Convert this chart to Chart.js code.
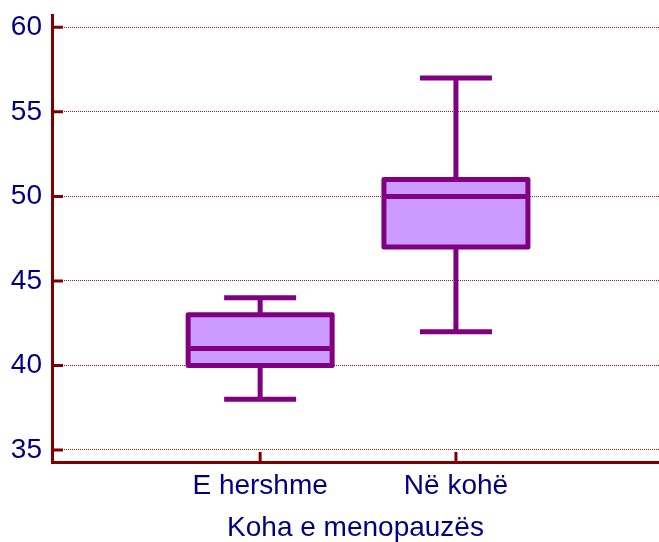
<!DOCTYPE html>
<html>
<head>
<meta charset="utf-8">
<script src="https://cdn.jsdelivr.net/npm/chart.js@4/dist/chart.umd.min.js"></script>
<style>
  html, body { margin: 0; padding: 0; background: #ffffff; overflow: hidden; }
  #wrap { width: 659px; height: 542px; }
</style>
</head>
<body>
<div id="wrap"><canvas id="c" width="659" height="542"></canvas></div>
<script>
// ---- data ----
const categories = ['E hershme', 'Në kohë'];
const categoryPositions = [1, 2];
const whiskerLow = [38, 42];
const q1 = [40, 47];
const median = [41, 50];
const q3 = [43, 51];
const whiskerHigh = [44, 57];
const yTicks = [35, 40, 45, 50, 55, 60];
const xTitle = 'Koha e menopauzës';

// ---- styles ----
const boxStroke = '#800080';
const boxFill = '#CC99FF';
const axisColor = '#800000';
const textColor = '#000080';
const fontFamily = "'Liberation Sans', Arial, sans-serif";

const boxPlotPlugin = {
  id: 'boxplotDraw',
  afterDatasetsDraw(chart) {
    const { ctx, scales: { y } } = chart;
    const meta = chart.getDatasetMeta(0);
    const capHalf = 36;
    ctx.save();
    ctx.strokeStyle = boxStroke;
    ctx.lineWidth = 5;
    ctx.lineJoin = 'round';
    ctx.lineCap = 'butt';
    meta.data.forEach((bar, i) => {
      const cx = bar.x;
      const half = bar.width / 2;
      const yQ1 = y.getPixelForValue(q1[i]);
      const yQ3 = y.getPixelForValue(q3[i]);
      const yMed = y.getPixelForValue(median[i]);
      const yLo = y.getPixelForValue(whiskerLow[i]);
      const yHi = y.getPixelForValue(whiskerHigh[i]);
      ctx.beginPath();
      ctx.moveTo(cx, yQ3); ctx.lineTo(cx, yHi);
      ctx.moveTo(cx - capHalf, yHi); ctx.lineTo(cx + capHalf, yHi);
      ctx.moveTo(cx, yQ1); ctx.lineTo(cx, yLo);
      ctx.moveTo(cx - capHalf, yLo); ctx.lineTo(cx + capHalf, yLo);
      ctx.stroke();
      ctx.strokeRect(cx - half, yQ3, 2 * half, yQ1 - yQ3);
      ctx.beginPath();
      ctx.moveTo(cx - half, yMed); ctx.lineTo(cx + half, yMed);
      ctx.stroke();
    });
    ctx.restore();
  },
  afterDraw(chart) {
    const { ctx, scales: { x, y }, chartArea } = chart;
    ctx.save();
    ctx.strokeStyle = axisColor;
    ctx.lineWidth = 3;
    ctx.beginPath();
    y.ticks.forEach(t => {
      const py = y.getPixelForValue(t.value);
      ctx.moveTo(chartArea.left, py); ctx.lineTo(chartArea.left + 11, py);
    });
    x.ticks.forEach(t => {
      const px = x.getPixelForValue(t.value);
      ctx.moveTo(px, chartArea.bottom); ctx.lineTo(px, chartArea.bottom - 10);
    });
    ctx.stroke();
    ctx.restore();
  }
};

new Chart(document.getElementById('c'), {
  type: 'bar',
  data: {
    datasets: [{
      data: categoryPositions.map((p, i) => ({ x: p, y: [q1[i], q3[i]] })),
      backgroundColor: boxFill,
      borderWidth: 0,
      barThickness: 144
    }]
  },
  options: {
    responsive: false,
    animation: false,
    devicePixelRatio: 1,
    layout: { padding: { top: 15, left: 0, right: 0, bottom: 0 } },
    plugins: { legend: { display: false }, tooltip: { enabled: false } },
    scales: {
      x: {
        type: 'linear',
        min: -0.063,
        max: 3.037,
        offset: false,
        afterBuildTicks(scale) { scale.ticks = categoryPositions.map(v => ({ value: v })); },
        afterFit(scale) { scale.height = 80; scale.paddingLeft = 0; scale.paddingRight = 0; },
        grid: { display: false, drawTicks: false, offset: false },
        border: { display: true, color: axisColor, width: 3 },
        ticks: {
          color: textColor,
          padding: 7,
          maxRotation: 0,
          autoSkip: false,
          font: { family: fontFamily, size: 28 },
          callback: (v) => categories[categoryPositions.indexOf(v)]
        },
        title: {
          display: true,
          text: xTitle,
          color: textColor,
          font: { family: fontFamily, size: 28 },
          padding: { top: 0, bottom: -3 }
        }
      },
      y: {
        type: 'linear',
        min: 34.29,
        max: 60.73,
        afterBuildTicks(scale) { scale.ticks = yTicks.map(v => ({ value: v })); },
        afterFit(scale) { scale.width = 52; scale.paddingTop = 0; scale.paddingBottom = 0; },
        grid: { color: '#a01818', lineWidth: 1, drawTicks: false },
        border: { display: true, color: axisColor, width: 3, dash: [1, 1] },
        ticks: {
          color: textColor,
          padding: 10,
          font: { family: fontFamily, size: 28 }
        }
      }
    }
  },
  plugins: [boxPlotPlugin]
});
</script>
</body>
</html>
